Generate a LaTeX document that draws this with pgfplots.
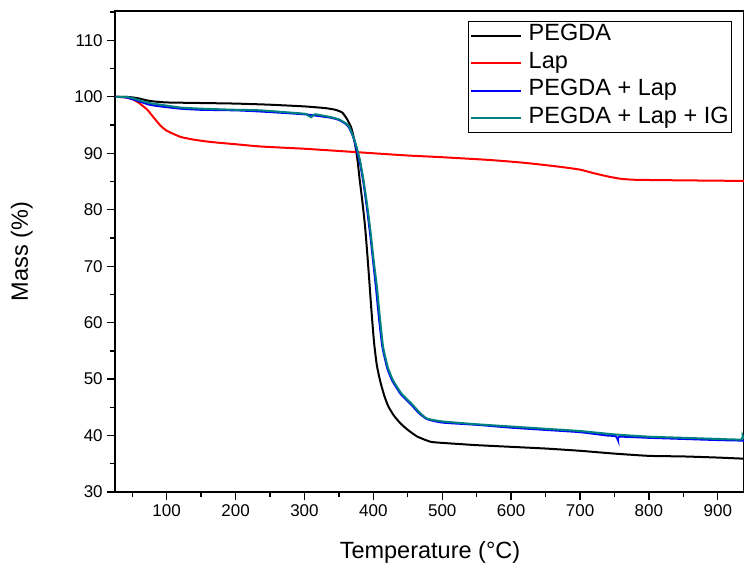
\documentclass[border=0pt]{standalone}
\usepackage{fontspec}
\setmainfont{Liberation Sans}
\usepackage{pgfplots}
\pgfplotsset{compat=1.18}
\definecolor{pegteal}{RGB}{0,128,128}

\begin{document}
\begin{tikzpicture}
\begin{axis}[
  name=ax, at={(0,0)}, anchor=south west,
  scale only axis, width=629pt, height=481pt,
  xmin=25, xmax=938, ymin=30, ymax=115.2,
  xtick={100,200,...,900}, ytick={30,40,...,110},
  minor xtick={50,150,...,900}, minor ytick={35,45,...,115},
  xtick pos=bottom, ytick pos=left,
  tick align=outside,
  major tick length=8pt, minor tick length=5pt,
  every tick/.style={black, line width=1.3pt},
  axis line style={line width=1.5pt},
  /pgf/number format/assume math mode=true,
  ticklabel style={font=\fontsize{17}{20}\selectfont},
  xlabel={Temperature (°C)}, ylabel={Mass (\%)},
  label style={font=\fontsize{23.5}{28}\selectfont},
  xlabel style={at={(axis description cs:0.5008,-0.125)}, anchor=center},
  ylabel style={at={(axis description cs:-0.148,0.5)}, anchor=center},
  legend style={at={(rel axis cs:1,1)}, anchor=north east, xshift=-12pt, yshift=-10pt,
    font=\fontsize{23.5}{28}\selectfont, draw=black, line width=0.8pt,
    inner xsep=2pt, inner ysep=0.5pt, cells={anchor=west},
    nodes={inner xsep=1pt, inner ysep=3pt, text height=16pt, text depth=5.5pt}},
  legend image code/.code={\draw[#1, line width=2pt] (0pt,0pt) -- (50pt,0pt);
    \path (56pt,0pt);},
  line width=2pt,
  smooth, tension=0.3,
]
\addplot[black] coordinates {
(26,100)(40,100)(50,99.9)(60,99.7)(70,99.4)(80,99.2)(100,99.0)(150,98.9)(200,98.8)
(250,98.6)(300,98.3)(330,98.0)(345,97.7)(355,97.2)(362,96.0)(368,94.5)(373,92.0)
(377,88.8)(380,85.5)(384,81.5)(388,77)(391,72.5)(394,67.6)(397,62.5)(401,56.5)(405,52.5)
(410,49.6)(416,47.0)(422,45.1)(430,43.5)(439,42.2)(450,41.0)(464,39.8)(483,38.9)
(500,38.7)(550,38.3)(600,38.0)(650,37.7)(700,37.3)(750,36.8)(800,36.4)(850,36.3)
(900,36.1)(938,35.9)};
\addlegendentry{PEGDA}
\addplot[red] coordinates {
(26,100)(40,99.9)(50,99.6)(60,98.9)(72,97.7)(80,96.5)(91,94.9)(100,94.0)(120,92.9)
(140,92.4)(164,92.0)(200,91.6)(236,91.2)(300,90.8)(338,90.5)(400,90.0)(450,89.6)
(500,89.3)(570,88.8)(620,88.3)(671,87.6)(700,87.1)(719,86.5)(740,85.9)(758,85.5)
(780,85.3)(850,85.2)(938,85.1)};
\addlegendentry{Lap}
\addplot[blue] coordinates {
(26,100)(40,99.9)(50,99.6)(60,99.2)(75,98.6)(91,98.3)(120,97.9)(150,97.7)(200,97.6)
(236,97.4)(300,96.9)(338,96.3)(350,95.9)(360,95.2)(365,94.5)(371,92.8)(376,90.5)
(381,88.0)(386,84.5)(391,80.0)(396,75)(400,70.5)(404,66)(408,61)(413,55.8)(420,52.0)
(427.5,49.7)(440,47.3)(454,45.6)(466,44.0)(478,42.9)(500,42.3)(550,41.9)(600,41.4)
(650,41.0)(700,40.6)(740,40.0)(752,39.9)(755,39.2)(757,39.8)(800,39.6)(850,39.4)
(900,39.2)(938,39.1)};
\addlegendentry{PEGDA + Lap}
\addplot[pegteal] coordinates {
(26,100)(40,100)(50,99.8)(60,99.4)(75,98.9)(91,98.6)(120,98.1)(150,97.9)(200,97.7)
(236,97.6)(300,97.0)(305,96.7)(310,96.4)(315,96.9)(338,96.4)(350,96.0)(360,95.3)
(365,94.7)(371,92.9)(376,91.0)(381,88.5)(386,85.0)(391,80.8)(396,76)(400,71.5)
(405,66.5)(409,61.5)(414,55.8)(421,52.1)(428.5,49.8)(441,47.4)(455,45.7)(467,44.1)
(478,43.0)(500,42.5)(550,42.0)(600,41.6)(650,41.2)(700,40.8)(750,40.2)(800,39.8)
(850,39.6)(900,39.4)(934,39.3)(936,40.0)(938,39.4)};
\addlegendentry{PEGDA + Lap + IG}
\end{axis}
\pgfresetboundingbox
\path[use as bounding box] (-115pt,-76pt) rectangle (629pt,492pt);
\end{tikzpicture}
\end{document}
